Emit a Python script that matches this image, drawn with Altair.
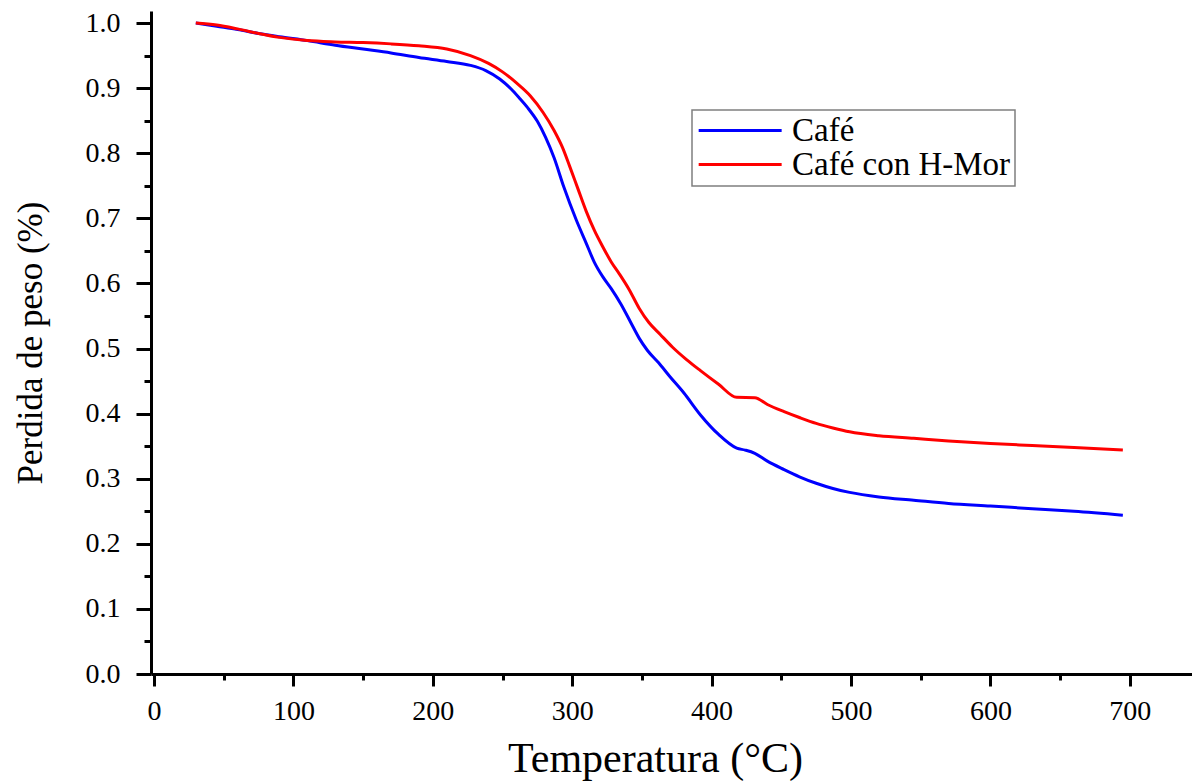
import altair as alt
import pandas as pd

series = ["Café", "Café con H-Mor"]
colors = ["#0000ff", "#ff0000"]

cafe_t = [30, 45, 60, 75, 90, 110, 130, 150, 170, 190, 210, 227, 238, 248, 256, 262,
          268, 275, 281, 287, 294, 303, 310, 316, 322, 328, 335, 342, 348, 354, 362,
          370, 380, 392, 405, 418, 424, 431, 440, 452, 463, 475, 487, 499, 520, 545,
          570, 600, 630, 660, 695]
cafe_w = [1.000, 0.995, 0.990, 0.984, 0.979, 0.973, 0.966, 0.960, 0.954, 0.947, 0.941,
          0.935, 0.927, 0.914, 0.899, 0.885, 0.870, 0.849, 0.824, 0.793, 0.748, 0.697,
          0.662, 0.632, 0.610, 0.592, 0.568, 0.540, 0.516, 0.497, 0.478, 0.457, 0.432,
          0.398, 0.368, 0.347, 0.344, 0.339, 0.327, 0.314, 0.303, 0.293, 0.285, 0.279,
          0.272, 0.267, 0.262, 0.258, 0.254, 0.250, 0.244]

hmor_t = [30, 45, 60, 75, 90, 110, 130, 150, 170, 190, 210, 227, 240, 250, 260, 270,
          279, 287, 293, 298, 304, 310, 316, 322, 328, 334, 341, 348, 355, 363, 372,
          382, 392, 405, 418, 431, 440, 452, 463, 475, 487, 499, 520, 545, 570, 600,
          630, 660, 695]
hmor_w = [1.000, 0.997, 0.991, 0.984, 0.978, 0.973, 0.971, 0.970, 0.968, 0.965, 0.960,
          0.950, 0.938, 0.925, 0.908, 0.888, 0.863, 0.835, 0.809, 0.781, 0.746, 0.711,
          0.681, 0.656, 0.633, 0.614, 0.590, 0.562, 0.540, 0.522, 0.502, 0.483, 0.466,
          0.445, 0.425, 0.4245, 0.414, 0.403, 0.394, 0.385, 0.378, 0.372, 0.366, 0.362,
          0.358, 0.354, 0.351, 0.348, 0.344]

x_major = [0, 100, 200, 300, 400, 500, 600, 700]
x_minor = [50, 150, 250, 350, 450, 550, 650]
y_major = [0.0, 0.1, 0.2, 0.3, 0.4, 0.5, 0.6, 0.7, 0.8, 0.9, 1.0]
y_minor = [0.05, 0.15, 0.25, 0.35, 0.45, 0.55, 0.65, 0.75, 0.85, 0.95]

df = pd.concat([
    pd.DataFrame({"T": cafe_t, "W": cafe_w, "Serie": series[0]}),
    pd.DataFrame({"T": hmor_t, "W": hmor_w, "Serie": series[1]}),
])

FONT = "Liberation Serif"
xscale = alt.Scale(domain=[-2.15, 744.6], nice=False, zero=False)
yscale = alt.Scale(domain=[0, 1.0185], nice=False, zero=False)

x_axis = alt.Axis(values=x_major, format="d", orient="bottom", title="Temperatura (°C)",
                  grid=False, domainColor="black", domainWidth=3, tickColor="black",
                  tickWidth=3, tickSize=12, labelPadding=11, labelFont=FONT,
                  labelFontSize=28, labelColor="black", titleFont=FONT, titleFontSize=42,
                  titleFontWeight="normal", titleColor="black", titlePadding=14,
                  minExtent=50, maxExtent=50, titleX=504)
y_axis = alt.Axis(values=y_major, format=".1f", orient="left", title="Perdida de peso (%)",
                  grid=False, domainColor="black", domainWidth=3, tickColor="black",
                  tickWidth=3, tickSize=15, labelPadding=16, labelFont=FONT,
                  labelFontSize=28, labelColor="black", titleFont=FONT, titleFontSize=35,
                  titleFontWeight="normal", titleColor="black", titlePadding=33,
                  minExtent=70, maxExtent=70)

x_minor_axis = alt.Axis(values=x_minor, orient="bottom", title=None, labels=False,
                        domain=False, grid=False, tickColor="black", tickWidth=3,
                        tickSize=6)
y_minor_axis = alt.Axis(values=y_minor, orient="left", title=None, labels=False,
                        domain=False, grid=False, tickColor="black", tickWidth=3,
                        tickSize=7)

lines = alt.Chart(df).mark_line(strokeWidth=3, interpolate="monotone").encode(
    x=alt.X("T:Q", scale=xscale, axis=x_axis),
    y=alt.Y("W:Q", scale=yscale, axis=y_axis),
    color=alt.Color("Serie:N", scale=alt.Scale(domain=series, range=colors),
                    legend=alt.Legend(title=None, orient="none", legendX=541, legendY=99,
                                      symbolType="M-1,0H5", symbolSize=765,
                                      symbolStrokeWidth=3, labelFont=FONT,
                                      labelFontSize=33, labelColor="black",
                                      labelOffset=63, padding=4, rowPadding=0,
                                      strokeColor="#7f7f7f", fillColor="white",
                                      labelLimit=0)),
    order=alt.Order("T:Q"),
)

minor = alt.Chart(df).mark_point(opacity=0).encode(
    x=alt.X("T:Q", scale=xscale, axis=x_minor_axis),
    y=alt.Y("W:Q", scale=yscale, axis=y_minor_axis),
)

chart = alt.layer(lines, minor).resolve_axis(x="independent", y="independent").properties(
    width=1041, height=663,
    padding={"left": 143, "top": 3, "right": 0, "bottom": 108},
    autosize=alt.AutoSizeParams(type="none"),
).configure_view(stroke=None).configure_legend(strokeWidth=1.5)

chart.save("out.html", embed_options={"renderer": "svg", "actions": False})
